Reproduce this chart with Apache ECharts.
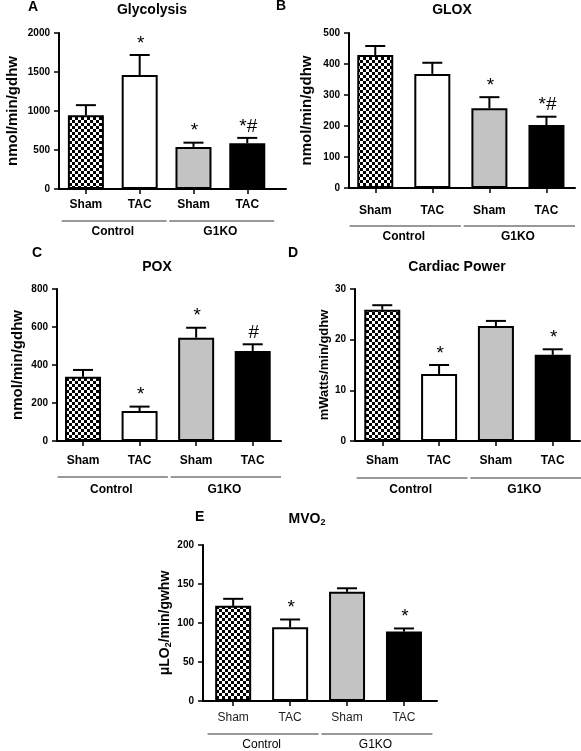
<!DOCTYPE html>
<html>
<head>
<meta charset="utf-8">
<script src="https://cdn.jsdelivr.net/npm/echarts@6/dist/echarts.min.js"></script>
<style>
html,body{margin:0;padding:0;background:#fff;}
#chart{width:581px;height:751px;}
</style>
</head>
<body>
<div id="chart"></div>
<script>
// ---- data ----
const categories = ['Sham', 'TAC', 'Sham', 'TAC'];
const groupNames = ['Control', 'G1KO'];
const groupRanges = [[0, 1], [2, 3]];

const glycolysisMean = [945, 1460, 540, 585];
const glycolysisErr = [130, 258, 54, 70];
const glycolysisSig = ['', '*', '*', '*#'];

const gloxMean = [429, 368, 257, 203];
const gloxErr = [29, 36, 36, 27];
const gloxSig = ['', '', '*', '*#'];

const poxMean = [338, 158, 544, 474];
const poxErr = [36, 23, 52, 35];
const poxSig = ['', '*', '*', '#'];

const powerMean = [25.9, 13.2, 22.7, 17.0];
const powerErr = [0.9, 1.8, 1.0, 1.1];
const powerSig = ['', '*', '', '*'];

const mvo2Mean = [122, 94.5, 140, 89];
const mvo2Err = [9, 10, 4.5, 4];
const mvo2Sig = ['', '*', '', '*'];

const yMax = [2000, 500, 800, 30, 200];
const yInterval = [500, 100, 200, 10, 50];

// ---- styles / layout ----
const FONT = 'Liberation Sans, Arial, sans-serif';
const pat = document.createElement('canvas');
pat.width = 6; pat.height = 6;
const pc = pat.getContext('2d');
pc.fillStyle = '#fff'; pc.fillRect(0, 0, 6, 6);
pc.fillStyle = '#000'; pc.fillRect(0, 0, 3, 3); pc.fillRect(3, 3, 3, 3);
const fills = [{image: pat, repeat: 'repeat'}, '#ffffff', '#c3c3c3', '#000000'];

const panels = [
  {mean: glycolysisMean, err: glycolysisErr, sig: glycolysisSig, name: 'nmol/min/gdhw', nameSize: 15, nameGap: 39,
   grid: {left: 59, top: 33, width: 227, height: 156}, xmin: -0.5, xmax: 3.72, labMargin: 10, lineOff: 32, grpOff: 43, bold: true},
  {mean: gloxMean, err: gloxErr, sig: gloxSig, name: 'nmol/min/gdhw', nameSize: 15, nameGap: 35,
   grid: {left: 349, top: 33, width: 226, height: 155}, xmin: -0.46, xmax: 3.5, labMargin: 17, lineOff: 38, grpOff: 49, bold: true},
  {mean: poxMean, err: poxErr, sig: poxSig, name: 'nmol/min/gdhw', nameSize: 15, nameGap: 32,
   grid: {left: 57, top: 289, width: 224, height: 152}, xmin: -0.46, xmax: 3.5, labMargin: 14, lineOff: 36, grpOff: 49, bold: true},
  {mean: powerMean, err: powerErr, sig: powerSig, name: 'mWatts/min/gdhw', nameSize: 13, nameGap: 21,
   grid: {left: 355, top: 289, width: 225, height: 152}, xmin: -0.48, xmax: 3.48, labMargin: 14, lineOff: 37, grpOff: 49, bold: true},
  {mean: mvo2Mean, err: mvo2Err, sig: mvo2Sig, name: 'μLO{s|2}/min/gwhw', nameSize: 14, nameGap: 23,
   grid: {left: 203, top: 545, width: 234, height: 156}, xmin: -0.53, xmax: 3.58, labMargin: 11, lineOff: 33, grpOff: 44, bold: false}
];

const grids = [], xAxes = [], yAxes = [], series = [];
panels.forEach((p, k) => {
  grids.push(Object.assign({containLabel: false}, p.grid));
  xAxes.push({
    type: 'value', gridIndex: k, min: p.xmin, max: p.xmax,
    splitLine: {show: false},
    axisLine: {show: true, onZero: false, lineStyle: {color: '#000', width: 2}},
    axisTick: {show: true, customValues: [0, 1, 2, 3], length: 5, lineStyle: {color: '#000', width: 1.5}},
    axisLabel: {show: true, customValues: [0, 1, 2, 3], margin: p.labMargin,
      formatter: v => categories[Math.round(v)],
      fontSize: 12, fontWeight: p.bold ? 'bold' : 'normal', color: p.bold ? '#000' : '#222', fontFamily: FONT}
  });
  yAxes.push({
    type: 'value', gridIndex: k, min: 0, max: yMax[k], interval: yInterval[k],
    splitLine: {show: false},
    axisLine: {show: true, onZero: false, lineStyle: {color: '#000', width: 2}},
    axisTick: {show: true, length: 5, lineStyle: {color: '#000', width: 1.5}},
    axisLabel: {fontSize: 10, fontWeight: 'bold', color: '#000', fontFamily: FONT, margin: 9,
      formatter: v => String(v)},
    name: p.name, nameLocation: 'middle', nameGap: p.nameGap,
    nameTextStyle: {fontSize: p.nameSize, fontWeight: 'bold', color: '#000', fontFamily: FONT,
      rich: {s: {fontSize: 9, fontWeight: 'bold', fontFamily: FONT, color: '#000', padding: [7, 0, 0, 0]}}}
  });
  series.push({
    type: 'bar', xAxisIndex: k, yAxisIndex: k, barWidth: 36,
    data: p.mean.map((v, i) => ({value: [i, v], itemStyle: {color: fills[i]}})),
    itemStyle: {borderColor: '#000', borderWidth: 2},
    silent: true, animation: false
  });
  series.push({
    type: 'custom', xAxisIndex: k, yAxisIndex: k, z: 5, animation: false, silent: true,
    data: p.mean.map((v, i) => [i, v, v + p.err[i]]),
    encode: {x: 0, y: [1, 2]},
    renderItem: (params, api) => {
      const i = api.value(0);
      const p0 = api.coord([i, api.value(1)]);
      const p1 = api.coord([i, api.value(2)]);
      return {type: 'group', children: [
        {type: 'line', shape: {x1: p0[0], y1: p0[1], x2: p1[0], y2: p1[1]}, style: {stroke: '#000', lineWidth: 2}},
        {type: 'line', shape: {x1: p1[0] - 10, y1: p1[1], x2: p1[0] + 10, y2: p1[1]}, style: {stroke: '#000', lineWidth: 2}},
        {type: 'text', style: {text: p.sig[params.dataIndex], x: p1[0] + 1, y: p1[1] - 2, align: 'center', verticalAlign: 'bottom',
          fontSize: 19, fontFamily: FONT, fill: '#000'}}
      ]};
    }
  });
  series.push({
    type: 'custom', xAxisIndex: k, yAxisIndex: k, z: 5, animation: false, silent: true,
    data: groupRanges.map(r => [r[0], r[1], 0]),
    encode: {x: [0, 1], y: 2},
    renderItem: (params, api) => {
      const a = api.value(0), b = api.value(1);
      const q0 = api.coord([a - 0.45, 0]);
      const q1 = api.coord([b + 0.5, 0]);
      const qm = api.coord([(a + b) / 2, 0]);
      return {type: 'group', children: [
        {type: 'line', shape: {x1: q0[0], y1: q0[1] + p.lineOff, x2: q1[0], y2: q1[1] + p.lineOff}, style: {stroke: '#333', lineWidth: 1.2}},
        {type: 'text', style: {text: groupNames[params.dataIndex], x: qm[0], y: qm[1] + p.grpOff, align: 'center', verticalAlign: 'middle',
          fontSize: 12, fontWeight: p.bold ? 'bold' : 'normal', fontFamily: FONT, fill: '#000'}}
      ]};
    }
  });
});

function txt(text, x, y, align, size, rich) {
  const st = {text: text, x: x, y: y, align: align, verticalAlign: 'middle', fontSize: size || 14, fontWeight: 'bold', fontFamily: FONT, fill: '#000'};
  if (rich) st.rich = rich;
  return {type: 'text', style: st, silent: true};
}

const chart = echarts.init(document.getElementById('chart'), null, {renderer: 'canvas'});
chart.setOption({
  animation: false,
  backgroundColor: '#fff',
  grid: grids, xAxis: xAxes, yAxis: yAxes, series: series,
  graphic: {elements: [
    txt('A', 28, 7, 'left'),
    txt('Glycolysis', 152, 10, 'center'),
    txt('B', 276, 6, 'left'),
    txt('GLOX', 452, 10, 'center'),
    txt('C', 32, 253, 'left'),
    txt('POX', 157, 267, 'center'),
    txt('D', 288, 253, 'left'),
    txt('Cardiac Power', 457, 267, 'center'),
    txt('E', 195, 517, 'left'),
    txt('MVO{s|2}', 307, 519, 'center', 14, {s: {fontSize: 9, fontWeight: 'bold', fontFamily: FONT, fill: '#000', padding: [8, 0, 0, 0]}})
  ]}
});
</script>
</body>
</html>
